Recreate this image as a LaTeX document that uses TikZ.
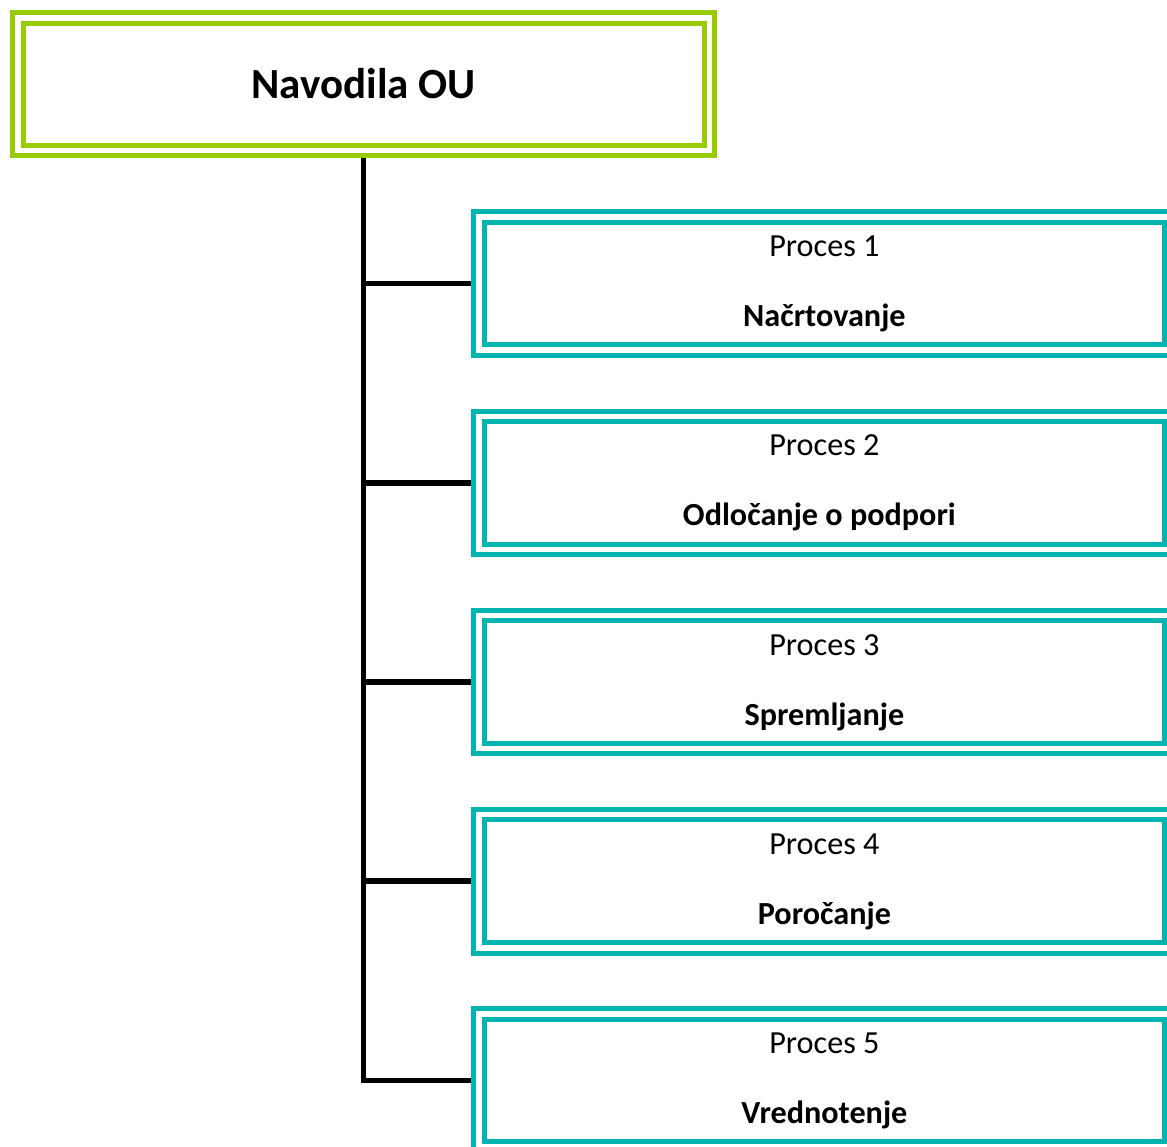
\documentclass[tikz,border=0pt]{standalone}
\usepackage{fontspec}
\setmainfont{Carlito}
\definecolor{tealc}{RGB}{0,180,176}
\definecolor{greenc}{RGB}{153,204,0}
\begin{document}
\begin{tikzpicture}[x=1pt,y=-1pt,
  rootbox/.style={rectangle, draw=greenc, line width=5pt, double=white, double distance=5.5pt,
    minimum width=691.6pt, minimum height=132.6pt, inner sep=0pt, outer sep=7.75pt},
  procbox/.style={rectangle, draw=tealc, line width=5pt, double=white, double distance=5.5pt,
    minimum width=690.9pt, minimum height=133.1pt, inner sep=0pt, outer sep=7.75pt},
  conn/.style={line width=5.5pt, draw=black, line join=miter},
  titletext/.style={font=\bfseries\fontsize{43}{50}\selectfont, anchor=base, inner sep=0pt},
  ptext/.style={font=\fontsize{32.2}{38}\selectfont, anchor=base, inner sep=0pt},
  btext/.style={font=\bfseries\fontsize{32.2}{38}\selectfont, anchor=base, inner sep=0pt}]
\useasboundingbox (0,0) rectangle (1167,1146);
\clip (0,0) rectangle (1167,1146);
\node[rootbox] (root) at (363.7,84.2) {};
\node[titletext] (title) at (363.7,98.3) {Navodila OU};
\foreach \i/\t/\dx in {1/Načrtovanje/0,2/Odločanje o podpori/-5,3/Spremljanje/0,4/Poročanje/0,5/Vrednotenje/0}{
  \pgfmathsetmacro\yy{283.6+(\i-1)*199.2}
  \node[procbox] (b\i) at (824.4,\yy) {};
  \node[ptext] (pa\i) at (824.4,{\yy-26.9}) {Proces \i};
  \node[btext] (pb\i) at ({824.4+\dx},{\yy+43.1}) {\t};
}
\draw[conn] (root.south) |- (b5.west);
\foreach \i in {1,2,3,4}{
  \draw[conn] (root.south |- b\i.west) -- (b\i.west);
}
\end{tikzpicture}
\end{document}
